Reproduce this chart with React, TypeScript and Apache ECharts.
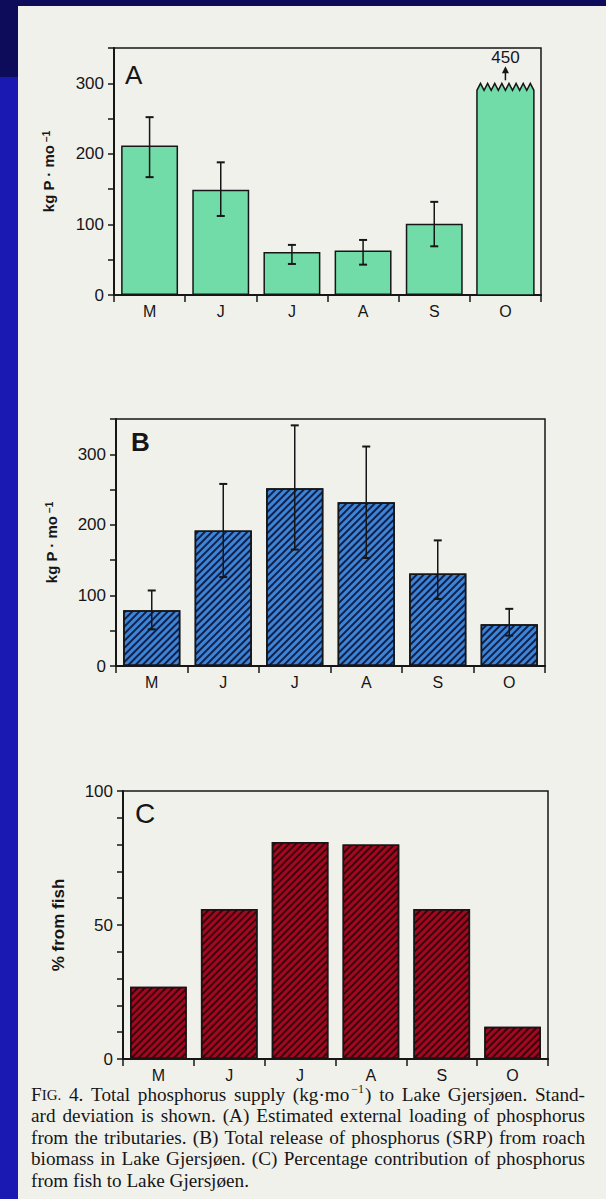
import React, { useEffect, useRef } from 'react';
import * as echarts from 'echarts';

// ---------- data ----------
const months = ['M', 'J', 'J', 'A', 'S', 'O'];

// Panel A: external loading (kg P / month); October goes off scale (450)
const aValues = [212, 149, 61, 63, 101, 450];
const aErrLow = [167, 112, 44, 43, 69];
const aErrHigh = [252, 188, 71, 78, 132];
const aBreakAt = 300;

// Panel B: release from roach biomass (kg P / month)
const bValues = [79, 192, 252, 232, 131, 59];
const bErrLow = [52, 126, 165, 153, 95, 43];
const bErrHigh = [107, 258, 341, 311, 178, 81];

// Panel C: % from fish
const cValues = [27, 56, 81, 80, 56, 12];

// tick labels
const kgLabels = [0, 100, 200, 300];
const pctLabels = [0, 50, 100];

const captionLines = [
  'FIG. 4. Total phosphorus supply (kg·mo⁻¹) to Lake Gjersjøen. Stand-',
  'ard deviation is shown. (A) Estimated external loading of phosphorus',
  'from the tributaries. (B) Total release of phosphorus (SRP) from roach',
  'biomass in Lake Gjersjøen. (C) Percentage contribution of phosphorus',
  'from fish to Lake Gjersjøen.',
];

// ---------- styles ----------
const INK = '#161616';
const PAPER = '#f1f1ec';
const GREEN = '#72dca9';
const BLUE = '#3d84d6';
const RED = '#a2081f';
const SANS = '"Liberation Sans", Arial, Helvetica, sans-serif';
const SERIF = '"Liberation Serif", "Times New Roman", serif';

const CAP_X = 31;
const CAP_W = 554;
const CAP_Y0 = 1100.5;
const CAP_LH = 21.5;
const CAP_FS = 19.2;
const SC_FS = 15;
const SUP_FS = 12;

type Seg = { t: string; fs: number; raise: number; pre: number };

function segmentsOf(word: string): Seg[] {
  if (word === 'FIG.') {
    return [
      { t: 'F', fs: CAP_FS, raise: 0, pre: 0 },
      { t: 'IG.', fs: SC_FS, raise: 0, pre: 0 },
    ];
  }
  const k = word.indexOf('⁻¹');
  if (k >= 0) {
    return [
      { t: word.slice(0, k), fs: CAP_FS, raise: 0, pre: 0 },
      { t: '−1', fs: SUP_FS, raise: 7, pre: 2 },
      { t: word.slice(k + 2), fs: CAP_FS, raise: 0, pre: 1 },
    ].filter((s) => s.t.length > 0);
  }
  return [{ t: word, fs: CAP_FS, raise: 0, pre: 0 }];
}

function buildCaption(): any[] {
  const ctx = document.createElement('canvas').getContext('2d')!;
  const tw = (t: string, fs: number) => {
    ctx.font = `${fs}px "Liberation Serif"`;
    return ctx.measureText(t).width;
  };
  const out: any[] = [];
  captionLines.forEach((line, li) => {
    const words = line.split(' ');
    const segs = words.map(segmentsOf);
    const widths = segs.map((ss) => ss.reduce((a, s) => a + s.pre + tw(s.t, s.fs), 0));
    const total = widths.reduce((a, b) => a + b, 0);
    const justify = li < captionLines.length - 1;
    const gap = justify ? (CAP_W - total) / (words.length - 1) : tw(' ', CAP_FS);
    const baseline = CAP_Y0 + li * CAP_LH;
    let x = CAP_X;
    segs.forEach((ss) => {
      ss.forEach((s) => {
        x += s.pre;
        out.push({
          type: 'text',
          x,
          y: baseline - s.raise - 0.3375 * s.fs,
          z: 10,
          style: {
            text: s.t,
            fontSize: s.fs,
            fontFamily: SERIF,
            fill: INK,
            align: 'left',
            verticalAlign: 'middle',
          },
        });
        x += tw(s.t, s.fs);
      });
      x += gap;
    });
  });
  return out;
}

const errorRender = (_p: any, api: any) => {
  const i = api.value(0);
  const lo = api.coord([i, api.value(1)]);
  const hi = api.coord([i, api.value(2)]);
  const x = lo[0];
  const w = 4;
  const style = { stroke: INK, lineWidth: 1.5, fill: 'none' };
  return {
    type: 'group',
    children: [
      { type: 'line', shape: { x1: x, y1: hi[1], x2: x, y2: lo[1] }, style },
      { type: 'line', shape: { x1: x - w, y1: hi[1], x2: x + w, y2: hi[1] }, style: { ...style, lineWidth: 2 } },
      { type: 'line', shape: { x1: x - w, y1: lo[1], x2: x + w, y2: lo[1] }, style: { ...style, lineWidth: 2 } },
    ],
  };
};

const brokenRender = (_p: any, api: any) => {
  const i = api.value(0);
  const base = api.coord([i, 0]);
  const top = api.coord([i, aBreakAt]);
  const bw = api.size([1, 0])[0] * 0.8;
  const cx = base[0];
  const xL = cx - bw / 2;
  const teeth = 8;
  const amp = 7;
  const zig: number[][] = [];
  for (let k = 0; k <= teeth * 2; k++) {
    zig.push([xL + (bw * k) / (teeth * 2), top[1] + (k % 2 === 0 ? amp : 0)]);
  }
  const poly = [[xL, base[1]], ...zig, [xL + bw, base[1]]];
  return {
    type: 'group',
    children: [
      { type: 'polygon', shape: { points: poly }, style: { fill: GREEN, stroke: INK, lineWidth: 1.5 } },
      { type: 'line', shape: { x1: cx, y1: top[1] - 3, x2: cx, y2: top[1] - 12 }, style: { stroke: INK, lineWidth: 1.5 } },
      {
        type: 'polygon',
        shape: { points: [[cx - 3.5, top[1] - 10], [cx + 3.5, top[1] - 10], [cx, top[1] - 17]] },
        style: { fill: INK },
      },
      {
        type: 'text',
        x: cx,
        y: top[1] - 26,
        style: {
          text: String(api.value(1)),
          fontSize: 17,
          fontFamily: SANS,
          fill: INK,
          align: 'center',
          verticalAlign: 'middle',
        },
      },
    ],
  };
};

const hatch = (color: string) => ({
  symbol: 'rect',
  symbolSize: 1,
  dashArrayX: [1, 0],
  dashArrayY: [1.1, 2.3],
  rotation: -Math.PI / 4,
  color,
});

const kgName = '{n|kg P · mo}{s| −1}';
const kgNameStyle = {
  rich: {
    n: { fontSize: 15, fontWeight: 'bold', fontFamily: SANS, color: INK },
    s: { fontSize: 10, fontWeight: 'bold', fontFamily: SANS, color: INK, verticalAlign: 'top' },
  },
};

export default function App() {
  const ref = useRef<HTMLDivElement>(null);

  useEffect(() => {
    const chart = echarts.init(ref.current!, null, { renderer: 'svg' });

    const gridDefs = [
      { left: 114, top: 48, width: 427, height: 247 },
      { left: 116, top: 419, width: 429, height: 247 },
      { left: 123, top: 791, width: 425, height: 268 },
    ];

    const xAxis = gridDefs.map((_, gi) => ({
      type: 'category',
      gridIndex: gi,
      data: months,
      boundaryGap: true,
      axisLine: { lineStyle: { color: INK, width: 2 } },
      axisTick: { show: true, length: 7, lineStyle: { color: INK, width: 1.5 } },
      axisLabel: { color: INK, fontSize: 16, fontFamily: SANS, margin: 8 },
      splitLine: { show: false },
    }));

    const yBase = {
      type: 'value',
      min: 0,
      axisLine: { show: true, lineStyle: { color: INK, width: 2 } },
      axisTick: { show: true, length: 6, lineStyle: { color: INK, width: 1.5 } },
      splitLine: { show: false },
      nameLocation: 'middle',
      nameRotate: 90,
    };

    const yAxis = [
      {
        ...yBase,
        gridIndex: 0,
        max: 350,
        interval: 50,
        axisLabel: { customValues: kgLabels, color: INK, fontSize: 17, fontFamily: SANS, margin: 10 },
        name: kgName,
        nameGap: 58,
        nameTextStyle: kgNameStyle,
      },
      {
        ...yBase,
        gridIndex: 1,
        max: 350,
        interval: 50,
        axisLabel: { customValues: kgLabels, color: INK, fontSize: 17, fontFamily: SANS, margin: 10 },
        name: kgName,
        nameGap: 57,
        nameTextStyle: kgNameStyle,
      },
      {
        ...yBase,
        gridIndex: 2,
        max: 100,
        interval: 10,
        axisLabel: { customValues: pctLabels, color: INK, fontSize: 17, fontFamily: SANS, margin: 10 },
        name: '% from fish',
        nameGap: 56,
        nameTextStyle: { fontSize: 17, fontWeight: 'bold', fontFamily: SANS, color: INK },
      },
    ];

    const barStyle = (color: string) => ({ color, borderColor: INK, borderWidth: 1.5 });

    const option: any = {
      animation: false,
      backgroundColor: PAPER,
      grid: gridDefs.map((g) => ({
        ...g,
        show: true,
        borderColor: INK,
        borderWidth: 1.5,
        backgroundColor: 'transparent',
      })),
      xAxis,
      yAxis,
      graphic: [
        { type: 'rect', z: 0, shape: { x: 0, y: 0, width: 606, height: 6 }, style: { fill: '#0c0c5a' } },
        { type: 'rect', z: 0, shape: { x: 0, y: 0, width: 18, height: 77 }, style: { fill: '#0c0c5a' } },
        { type: 'rect', z: 0, shape: { x: 0, y: 77, width: 18, height: 1122 }, style: { fill: '#1a1ab2' } },
        {
          type: 'text', left: 125, top: 62, z: 10,
          style: { text: 'A', fontSize: 26, fontFamily: SANS, fill: INK },
        },
        {
          type: 'text', left: 131, top: 429, z: 10,
          style: { text: 'B', fontSize: 26, fontWeight: 'bold', fontFamily: SANS, fill: INK },
        },
        {
          type: 'text', left: 135, top: 799, z: 10,
          style: { text: 'C', fontSize: 28, fontFamily: SANS, fill: INK },
        },
        ...buildCaption(),
      ],
      series: [
        {
          type: 'bar',
          xAxisIndex: 0,
          yAxisIndex: 0,
          barWidth: '80%',
          data: aValues.map((v) => (v > aBreakAt ? '-' : v)),
          itemStyle: barStyle(GREEN),
        },
        {
          type: 'custom',
          xAxisIndex: 0,
          yAxisIndex: 0,
          renderItem: brokenRender,
          encode: { x: 0, y: 1 },
          data: aValues.map((v, i) => [i, v]).filter((d) => d[1] > aBreakAt),
          z: 3,
        },
        {
          type: 'custom',
          xAxisIndex: 0,
          yAxisIndex: 0,
          renderItem: errorRender,
          encode: { x: 0, y: [1, 2] },
          data: aErrLow.map((lo, i) => [i, lo, aErrHigh[i]]),
          z: 4,
        },
        {
          type: 'bar',
          xAxisIndex: 1,
          yAxisIndex: 1,
          barWidth: '80%',
          data: bValues,
          itemStyle: { ...barStyle(BLUE), decal: hatch('rgba(8,14,48,0.85)') },
        },
        {
          type: 'custom',
          xAxisIndex: 1,
          yAxisIndex: 1,
          renderItem: errorRender,
          encode: { x: 0, y: [1, 2] },
          data: bErrLow.map((lo, i) => [i, lo, bErrHigh[i]]),
          z: 4,
        },
        {
          type: 'bar',
          xAxisIndex: 2,
          yAxisIndex: 2,
          barWidth: '80%',
          data: cValues,
          itemStyle: { ...barStyle(RED), decal: hatch('rgba(40,0,8,0.85)') },
        },
      ],
    };

    chart.setOption(option);
    return () => chart.dispose();
  }, []);

  return (
    <div
      ref={ref}
      style={{ position: 'absolute', left: 0, top: 0, width: 606, height: 1199 }}
    />
  );
}
